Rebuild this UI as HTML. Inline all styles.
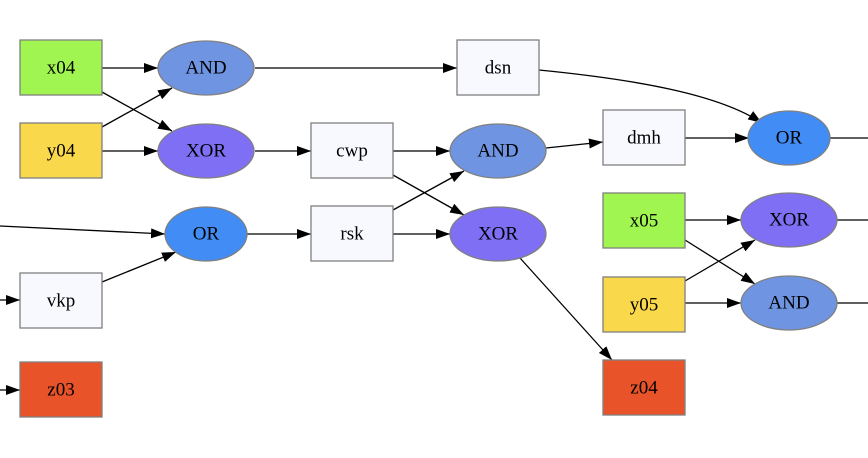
<!DOCTYPE html>
<html><head><meta charset="utf-8"><style>
html,body{margin:0;padding:0;background:#fff;width:868px;height:458px;overflow:hidden}
text{font-family:"Liberation Serif",serif;font-size:19px;text-anchor:middle;dominant-baseline:central;fill:#000}
</style></head><body>
<svg width="868" height="458" viewBox="0 0 868 458" xmlns="http://www.w3.org/2000/svg">
<defs><marker id="a" markerWidth="14" markerHeight="10" refX="14" refY="5" orient="auto" markerUnits="userSpaceOnUse"><path d="M0,0 L14,5 L0,10 z" fill="#000"/></marker></defs>
<g stroke="#000" stroke-width="1.3" fill="none" marker-end="url(#a)">
<path d="M102,68 L158,68"/>
<path d="M102,92 L172,131"/>
<path d="M102,127 L172,88"/>
<path d="M102,151 L158,151"/>
<path d="M255,68 L457,68"/>
<path d="M255,151 L311,151"/>
<path d="M539,70 C640,80 720,95 762,123"/>
<path d="M393,151 L450,151"/>
<path d="M393,175 L464,215"/>
<path d="M393,210 L464,171"/>
<path d="M393,234 L450,234"/>
<path d="M0,226 L165,234"/>
<path d="M102,282 L176,252"/>
<path d="M247,234 L311,234"/>
<path d="M0,300 L20,300"/>
<path d="M0,390 L20,390"/>
<path d="M546,148 L603,142"/>
<path d="M685,138 L749,138"/>
<path d="M685,220 L741,220"/>
<path d="M685,240 L755,284"/>
<path d="M685,281 L755,240"/>
<path d="M685,303 L741,303"/>
<path d="M520,258 L612,360"/>
</g>
<g stroke="#000" stroke-width="1.3">
<path d="M830,138 L868,138"/>
<path d="M837,220 L868,220"/>
<path d="M837,303 L868,303"/>
</g>
<g stroke="#808080" stroke-width="1.3">
<rect x="20" y="40" width="82" height="55" fill="#a0f550"/>
<rect x="20" y="123" width="82" height="55" fill="#f9d84b"/>
<rect x="457" y="40" width="82" height="55" fill="#f8f8ff"/>
<rect x="311" y="123" width="82" height="55" fill="#f8f8ff"/>
<rect x="311" y="206" width="82" height="55" fill="#f8f8ff"/>
<rect x="20" y="273" width="82" height="55" fill="#f8f8ff"/>
<rect x="20" y="362" width="82" height="55" fill="#e8532a"/>
<rect x="603" y="110" width="82" height="55" fill="#f8f8ff"/>
<rect x="603" y="193" width="82" height="55" fill="#a0f550"/>
<rect x="603" y="277" width="82" height="55" fill="#f9d84b"/>
<rect x="603" y="360" width="82" height="55" fill="#e8532a"/>
<ellipse cx="206" cy="68" rx="48" ry="27" fill="#6f94e2"/>
<ellipse cx="206" cy="151" rx="48" ry="27" fill="#7f6ff5"/>
<ellipse cx="206" cy="234" rx="41" ry="27" fill="#428df5"/>
<ellipse cx="498" cy="151" rx="48" ry="27" fill="#6f94e2"/>
<ellipse cx="498" cy="234" rx="48" ry="27" fill="#7f6ff5"/>
<ellipse cx="789" cy="138" rx="41" ry="27" fill="#428df5"/>
<ellipse cx="789" cy="220" rx="48" ry="27" fill="#7f6ff5"/>
<ellipse cx="789" cy="303" rx="48" ry="27" fill="#6f94e2"/>
</g>
<text x="61" y="68">x04</text>
<text x="61" y="151">y04</text>
<text x="498" y="68">dsn</text>
<text x="352" y="151">cwp</text>
<text x="352" y="234">rsk</text>
<text x="61" y="301">vkp</text>
<text x="61" y="390">z03</text>
<text x="644" y="138">dmh</text>
<text x="644" y="221">x05</text>
<text x="644" y="305">y05</text>
<text x="644" y="388">z04</text>
<text x="206" y="68">AND</text>
<text x="206" y="151">XOR</text>
<text x="206" y="234">OR</text>
<text x="498" y="151">AND</text>
<text x="498" y="234">XOR</text>
<text x="789" y="138">OR</text>
<text x="789" y="220">XOR</text>
<text x="789" y="303">AND</text>
</svg>
</body></html>
